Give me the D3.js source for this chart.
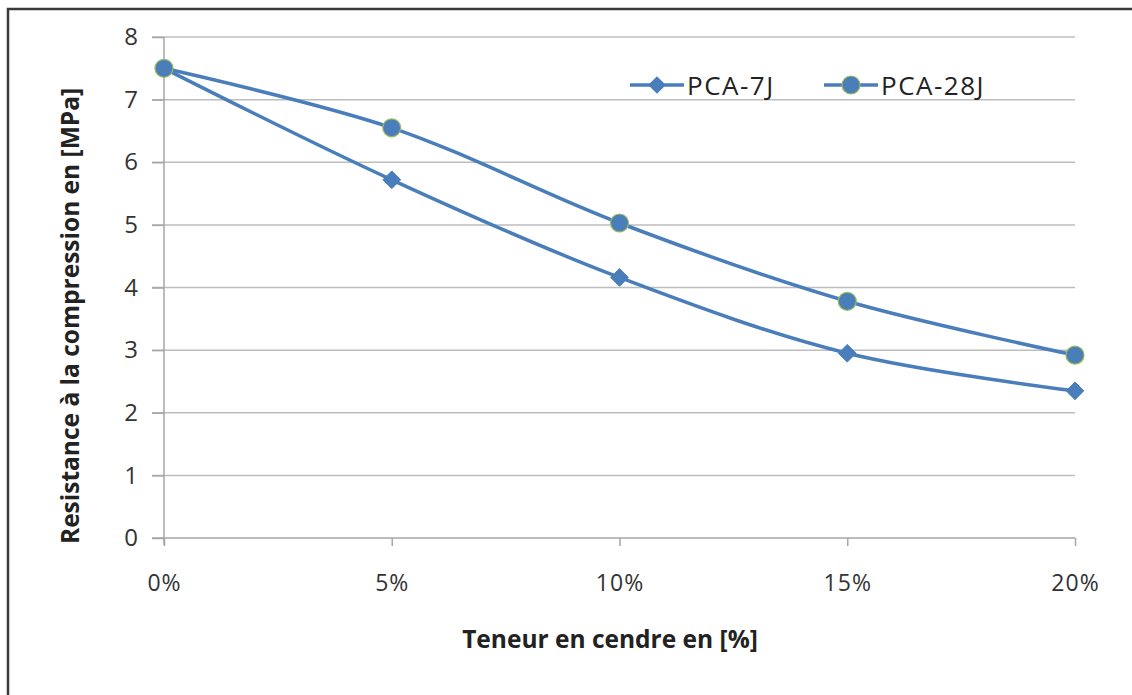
<!DOCTYPE html>
<html><head><meta charset="utf-8">
<script src="https://cdn.jsdelivr.net/npm/d3@7"></script>
<style>body{margin:0;background:#fff}svg{display:block}text{font-family:"Open Sans",Calibri,sans-serif}</style>
</head><body><svg id="c" width="1132" height="695"></svg>
<script>
const categories = ["0%", "5%", "10%", "15%", "20%"];
const pca7 = [7.5, 5.72, 4.16, 2.95, 2.35];
const pca28 = [7.5, 6.55, 5.03, 3.78, 2.92];
const yTicks = [0, 1, 2, 3, 4, 5, 6, 7, 8];
const seriesNames = ["PCA-7J", "PCA-28J"];

const svg = d3.select("#c");
const blue = "#4a7ebb";
// frame
svg.append("path").attr("d", "M8,695 V9 H1132").attr("fill", "none").attr("stroke", "#3a3a3a").attr("stroke-width", 2.5);

const x = d3.scalePoint().domain(categories).range([164, 1075]);
const y = d3.scaleLinear().domain([0, 8]).range([538, 37]);

// gridlines
svg.append("g").selectAll("line").data(yTicks.filter(d => d > 0)).join("line")
  .attr("x1", 152).attr("x2", 1075).attr("y1", d => y(d)).attr("y2", d => y(d))
  .attr("stroke", "#bdbdbd").attr("stroke-width", 1.5);

// y axis
const ya = svg.append("g").attr("transform", "translate(164,0)")
  .call(d3.axisLeft(y).tickValues(yTicks).tickSize(12).tickPadding(14).tickFormat(d3.format("d")));
ya.attr("font-size", null).attr("font-family", null);
ya.select(".domain").attr("stroke", "#a6a6a6").attr("stroke-width", 1.5).attr("d", "M0,37V545");
ya.selectAll(".tick line").attr("stroke", "#a6a6a6").attr("stroke-width", 1.5);
ya.selectAll("text").style("font-size", "24px").attr("fill", "#333");

// x axis
const xa = svg.append("g").attr("transform", "translate(0,538)")
  .call(d3.axisBottom(x).tickSize(8).tickPadding(29));
xa.attr("font-size", null).attr("font-family", null);
xa.select(".domain").attr("stroke", "#a6a6a6").attr("stroke-width", 1.5).attr("d", "M152,0H1075");
xa.selectAll(".tick line").attr("stroke", "#a6a6a6").attr("stroke-width", 1.5);
xa.selectAll("text").style("font-size", "23px").style("letter-spacing", "1px").attr("fill", "#333");

const line = d3.line().x((d, i) => x(categories[i])).y(d => y(d)).curve(d3.curveCatmullRom.alpha(0.5));

[pca7, pca28].forEach(s => {
  svg.append("path").datum(s).attr("d", line).attr("fill", "none").attr("stroke", blue).attr("stroke-width", 3.5);
});

const diamond = d3.symbol().type(d3.symbolDiamond2).size(200);
svg.append("g").selectAll("path").data(pca7).join("path")
  .attr("d", diamond).attr("transform", (d, i) => `translate(${x(categories[i])},${y(d)})`)
  .attr("fill", blue).attr("stroke", blue).attr("stroke-width", 1);
svg.append("g").selectAll("circle").data(pca28).join("circle")
  .attr("cx", (d, i) => x(categories[i])).attr("cy", d => y(d)).attr("r", 9)
  .attr("fill", blue).attr("stroke", "#9bbb59").attr("stroke-width", 1.2);

// legend
const lg = svg.append("g");
const legendX = [630, 824];
seriesNames.forEach((n, i) => {
  const lx = legendX[i];
  lg.append("line").attr("x1", lx).attr("x2", lx + 54).attr("y1", 85).attr("y2", 85).attr("stroke", blue).attr("stroke-width", 3.5);
  if (i === 0) lg.append("path").attr("d", diamond).attr("transform", `translate(${lx + 27},85)`).attr("fill", blue);
  else lg.append("circle").attr("cx", lx + 27).attr("cy", 85).attr("r", 9).attr("fill", blue).attr("stroke", "#9bbb59").attr("stroke-width", 1.2);
  lg.append("text").attr("x", lx + 57).attr("y", 95).style("font-size", "26px").style("letter-spacing", "1.5px").attr("fill", "#222").text(n);
});

// titles
svg.append("text").attr("x", 610).attr("y", 648).attr("text-anchor", "middle").style("font-size", "24.5px").attr("font-weight", "bold").attr("fill", "#222").text("Teneur en cendre en [%]");
svg.append("text").attr("transform", "translate(79,316) rotate(-90)").attr("text-anchor", "middle").style("font-size", "24.5px").attr("font-weight", "bold").attr("fill", "#222").text("Resistance à la compression en [MPa]");
</script></body></html>
